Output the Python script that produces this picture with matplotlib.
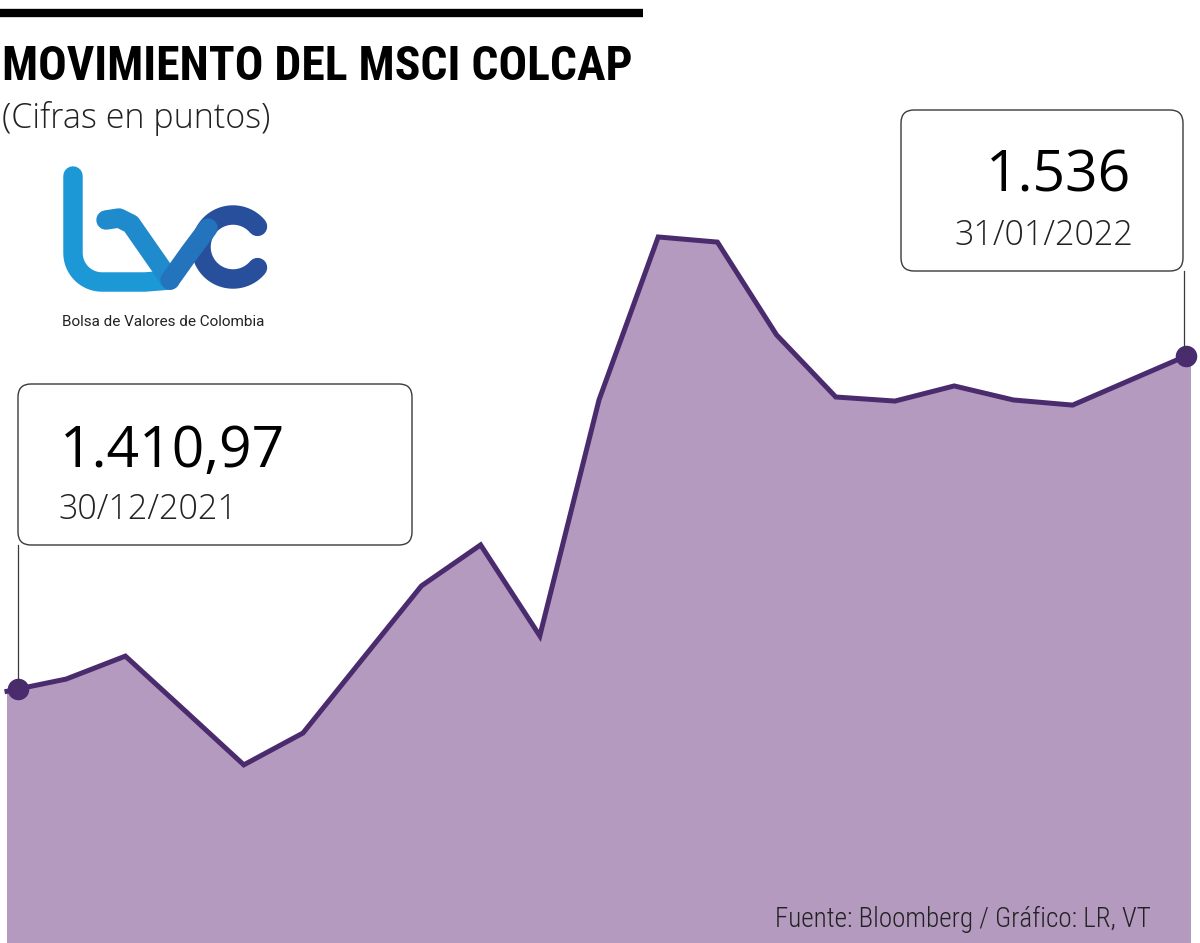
import numpy as np
import matplotlib
matplotlib.use("Agg")
import matplotlib.pyplot as plt
from matplotlib import font_manager as fm
from matplotlib.patches import FancyBboxPatch
from matplotlib.transforms import offset_copy

# ---------------- data ----------------
dates = ["30/12/2021", "03/01/2022", "04/01/2022", "05/01/2022", "06/01/2022",
         "07/01/2022", "11/01/2022", "12/01/2022", "13/01/2022", "14/01/2022",
         "17/01/2022", "18/01/2022", "19/01/2022", "20/01/2022", "21/01/2022",
         "24/01/2022", "25/01/2022", "26/01/2022", "27/01/2022", "28/01/2022",
         "31/01/2022"]
values = [1410.97, 1415.5, 1424.0, 1403.9, 1383.7, 1395.5, 1422.8, 1450.0,
          1465.2, 1431.5, 1518.9, 1579.3, 1577.4, 1543.0, 1520.0, 1518.5,
          1524.1, 1518.9, 1517.0, 1526.5, 1536.0]
start_label = "1.410,97"
start_date = "30/12/2021"
end_label = "1.536"
end_date = "31/01/2022"
title = "MOVIMIENTO DEL MSCI COLCAP"
subtitle = "(Cifras en puntos)"
source = "Fuente: Bloomberg / Gráfico: LR, VT"
logo_word = "Bolsa de Valores de Colombia"

# ---------------- fonts ----------------
names = {f.name for f in fm.fontManager.ttflist}
cond_family = None
cond_stretch = "normal"
for cand in ["Liberation Sans Narrow", "Roboto Condensed", "Open Sans Condensed",
             "DejaVu Sans Condensed", "Noto Sans Condensed"]:
    if cand in names:
        cond_family = [cand, "DejaVu Sans"]
        break
if cond_family is None:
    if any(f.name == "DejaVu Sans" and "condensed" in str(f.stretch)
           for f in fm.fontManager.ttflist):
        cond_family = ["DejaVu Sans"]
        cond_stretch = "condensed"
    else:
        cond_family = ["Roboto", "Open Sans", "DejaVu Sans"]
SANS = ["Open Sans", "DejaVu Sans"]

# ---------------- style ----------------
FILL = "#b49abf"
LINE = "#4a2c6e"
BOX = "#3a3a3a"

W, H = 1200, 943
fig = plt.figure(figsize=(W / 100, H / 100), dpi=100)
fig.patch.set_facecolor("white")

# main chart axes covering the whole figure
ax = fig.add_axes([0, 0, 1, 1])
x = np.arange(len(values))
ax.fill_between(x, values, 1200, color=FILL, lw=0, zorder=1)
ax.plot(x, values, color=LINE, lw=3.6, solid_joinstyle="miter", zorder=2)
ax.set_xlim(-7 / 59.2, len(values) - 1 + 9 / 59.2)
ax.set_ylim(1317.7, 1667.1)
ax.axis("off")

# overlay in pixel coordinates for decorations
ov = fig.add_axes([0, 0, 1, 1], zorder=5)
ov.patch.set_alpha(0)
ov.axis("off")
ov.set_xlim(0, W)
ov.set_ylim(H, 0)
ov.set_autoscale_on(False)

# top rule
ov.plot([0, 643], [13, 13], color="black", lw=6, solid_capstyle="butt")

# titles
t_title = ov.text(2, 80, title, family=cond_family, fontstretch=cond_stretch,
                  weight="bold", fontsize=34, ha="left", va="baseline", color="black")
ov.text(2, 128, subtitle, family=SANS, weight="light", fontsize=24.5,
        ha="left", va="baseline", color="#222222")

# logo strokes
kw = dict(lw=14, solid_capstyle="round", solid_joinstyle="round")
a = np.radians(np.linspace(180, 270, 20))
bx = np.concatenate([[73, 73], 102 + 29 * np.cos(a), [145, 170]])
by = np.concatenate([[176, 253], 253 - 29 * np.sin(a), [282, 280]])
ov.plot(bx, by, color="#1c98d6", **kw)
ov.plot([106, 119, 131, 170], [220, 218, 224, 280], color="#1f8bcc", **kw)
t = np.radians(np.linspace(40, 320, 60))
ov.plot(233 + 32 * np.cos(t), 247 - 32 * np.sin(t), color="#274f9c", **kw)
ov.plot([170, 190, 208], [280, 252, 228], color="#2374bc", **kw)
ov.text(62, 326, logo_word, family=["Roboto", "DejaVu Sans"], fontsize=11,
        ha="left", va="baseline", color="#222222")

# annotation boxes
for (x0, y0, x1, y1) in [(18, 384, 412, 545), (901, 110, 1183, 271)]:
    ov.add_patch(FancyBboxPatch((x0, y0), x1 - x0, y1 - y0,
                                boxstyle="round,pad=0,rounding_size=13",
                                facecolor="white", edgecolor=BOX, lw=1.0, zorder=3))
ov.text(60, 467, start_label, family=SANS, fontsize=41, ha="left",
        va="baseline", color="black", zorder=4)
ov.text(58, 519, start_date, family=SANS, weight="light", fontsize=24.5,
        ha="left", va="baseline", color="#222222", zorder=4)
ov.text(986, 192, end_label, family=SANS, fontsize=41, ha="left",
        va="baseline", color="black", zorder=4)
ov.text(954, 245, end_date, family=SANS, weight="light", fontsize=24.5,
        ha="left", va="baseline", color="#222222", zorder=4)

# connectors
ov.plot([17.5, 17.5], [545, 686], color=BOX, lw=0.9, zorder=3)
ov.plot([1183.5, 1183.5], [271, 352], color=BOX, lw=0.9, zorder=3)

# source
t_src = ov.text(775, 927, source, family=cond_family, fontstretch=cond_stretch,
                weight="light", fontsize=20, ha="left", va="baseline",
                color="#222222")

# fit the condensed texts to the widths seen in the reference
fig.canvas.draw()
renderer = fig.canvas.get_renderer()
for txt, target, maxsize in [(t_title, 631, 36), (t_src, 375, 21)]:
    w = txt.get_window_extent(renderer).width
    txt.set_fontsize(min(maxsize, txt.get_fontsize() * target / w))

# end-point dots (placed from the data through the chart transform)
tr_start = offset_copy(ax.transData, fig=fig, x=10.5, y=2, units="dots")
tr_end = offset_copy(ax.transData, fig=fig, x=-5, y=-2, units="dots")
ax.plot([x[0]], [values[0]], "o", ms=14.5, color=LINE, mec=LINE,
        transform=tr_start, zorder=6, clip_on=False)
ax.plot([x[-1]], [values[-1]], "o", ms=14.5, color=LINE, mec=LINE,
        transform=tr_end, zorder=6, clip_on=False)
ax.set_xlim(-7 / 59.2, len(values) - 1 + 9 / 59.2)
ax.set_ylim(1317.7, 1667.1)

fig.savefig("out.png", dpi=100)
